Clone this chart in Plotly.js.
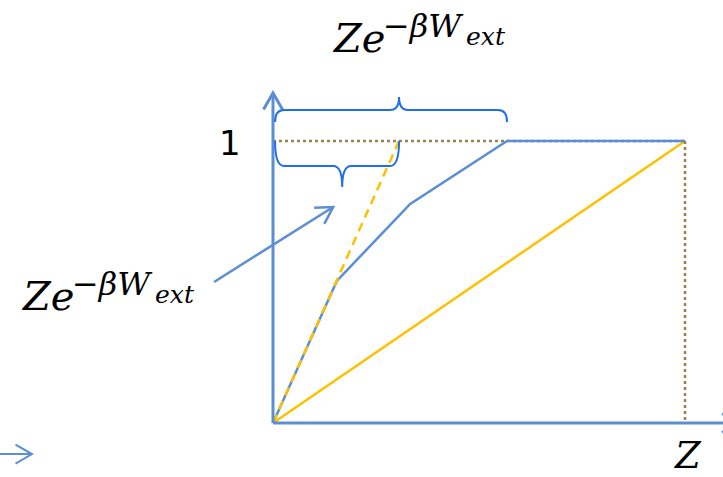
<!DOCTYPE html>
<html>
<head>
<meta charset="utf-8">
<script src="https://cdn.plot.ly/plotly-3.0.1.min.js"></script>
<style>
  html, body { margin: 0; padding: 0; background: #ffffff; }
  #chart { width: 723px; height: 477px; }
</style>
</head>
<body>
<div id="chart"></div>
<script>
// Piecewise partition-function curve (blue), its initial slope extended to 1 (dashed yellow),
// and the straight reference line from the origin to (Z, 1) (solid yellow).
var blueX = [0, 0.155, 0.333, 0.568, 1.0];
var blueY = [0, 0.504, 0.777, 1.0, 1.0];
var dashX = [0, 0.306];
var dashY = [0, 1.0];
var diagX = [0, 1.0];
var diagY = [0, 1.0];
// guide lines at level 1 and at Z
var levelX = [0, 1.0];
var levelY = [1.0, 1.0];
var zDropX = [1.0, 1.0];
var zDropY = [1.0, 0];
var levelLabel = "1";
var zLabel = "Z";

var W = 723, H = 477;
var X0 = 273, Y0 = 423, SX = 412, SY = 282;      // origin pixel, pixels per unit
var xRange = [-X0 / SX, (W - X0) / SX];
var yRange = [-(H - Y0) / SY, Y0 / SY];

function px(x) { return X0 + SX * x; }
function py(y) { return Y0 - SY * y; }
function dx(p) { return (p - X0) / SX; }
function dy(p) { return (Y0 - p) / SY; }

var BLUE = "#5B8ED6", YELLOW = "#FFC000", TAN = "#978350", BRACE = "#1F6FEA";

var traces = [
  { x: diagX, y: diagY, mode: "lines", line: { color: YELLOW, width: 2.5 }, hoverinfo: "skip" },
  { x: levelX, y: levelY, mode: "lines", line: { color: TAN, width: 2.5, dash: "dot" }, hoverinfo: "skip" },
  { x: zDropX, y: zDropY, mode: "lines", line: { color: TAN, width: 2.5, dash: "dot" }, hoverinfo: "skip" },
  { x: blueX, y: blueY, mode: "lines", line: { color: BLUE, width: 2.5 }, hoverinfo: "skip" },
  { x: dashX, y: dashY, mode: "lines", line: { color: YELLOW, width: 2.5, dash: "9px,6px" }, hoverinfo: "skip" }
];

var shapes = [];

// open chevron arrow from (x0,y0) to (x1,y1) in data units
function arrow(x0, y0, x1, y1, color, width) {
  var ax = px(x0), ay = py(y0), bx = px(x1), by = py(y1);
  var ang = Math.atan2(ay - by, ax - bx);
  var len = 19, spread = Math.PI / 6;
  var l1x = bx + len * Math.cos(ang + spread), l1y = by + len * Math.sin(ang + spread);
  var l2x = bx + len * Math.cos(ang - spread), l2y = by + len * Math.sin(ang - spread);
  shapes.push({ type: "line", xref: "x", yref: "y", x0: x0, y0: y0, x1: x1, y1: y1,
                line: { color: color, width: width } });
  shapes.push({ type: "path", xref: "x", yref: "y",
                path: "M" + dx(l1x) + "," + dy(l1y) + " L" + x1 + "," + y1 + " L" + dx(l2x) + "," + dy(l2y),
                line: { color: color, width: width } });
}

// axes
arrow(0, 0, 0, 1.17, BLUE, 3);
arrow(0, 0, 1.13, 0, BLUE, 3);
// stray axis stub in the lower left
arrow(-0.70, -0.11, -0.585, -0.11, BLUE, 2);
// pointer to the initial-slope segment
arrow(-0.143, 0.50, 0.146, 0.766, BLUE, 2.5);

// curly brace between xa and xb with its tip at xTip; vertical offsets in pixels from baseY
function brace(xa, xb, xTip, baseY, endOff, armOff, tipOff) {
  var a = px(xa), b = px(xb), t = px(xTip), base = py(baseY);
  var ye = base + endOff, ya = base + armOff, yt = base + tipOff;
  var r = 9, r2 = 9;
  var pts = [
    ["M", a, ye],
    ["Q", a, ya, a + r, ya],
    ["L", t - r2, ya],
    ["Q", t, ya, t, yt],
    ["Q", t, ya, t + r2, ya],
    ["L", b - r, ya],
    ["Q", b, ya, b, ye]
  ];
  var d = pts.map(function (p) {
    var s = p[0];
    for (var i = 1; i < p.length; i += 2) {
      s += (i > 1 ? " " : "") + dx(p[i]) + "," + dy(p[i + 1]);
    }
    return s;
  }).join(" ");
  shapes.push({ type: "path", xref: "x", yref: "y", path: d, line: { color: BRACE, width: 2 } });
}

// upper brace: origin to the point where the curve reaches 1
brace(0.005, blueX[3], dashX[1], 1.0, -19, -31, -44);
// lower brace: origin to where the initial slope reaches 1
brace(0.005, dashX[1], 0.168, 1.0, 0, 25, 46);

var annotations = [];
function textAt(x, baseline, txt, size, family, color) {
  // place text so that its baseline sits at the given pixel row
  var off = 0.346 * size;
  annotations.push({
    xref: "paper", yref: "paper", x: x / W, y: 1 - (baseline - off) / H,
    xanchor: "left", yanchor: "middle", showarrow: false, borderpad: 0,
    text: txt, font: { family: family, size: size, color: color || "#000000" }
  });
}
var MATH = "DejaVu Serif";
function mathLabel(x, baseline) {
  textAt(x, baseline, "<i>Ze</i>", 40, MATH);
  textAt(x + 51, baseline - 15, "−<i>βW</i>", 32, MATH);
  textAt(x + 134, baseline - 7, "<i>ext</i>", 25, MATH);
}
mathLabel(331, 52);
mathLabel(20, 310);
textAt(218, 155, levelLabel, 34, "DejaVu Sans");
textAt(673, 468, "<i>" + zLabel + "</i>", 37, MATH);

var layout = {
  width: W, height: H,
  margin: { l: 0, r: 0, t: 0, b: 0, pad: 0 },
  paper_bgcolor: "#ffffff", plot_bgcolor: "#ffffff",
  showlegend: false,
  xaxis: { range: xRange, visible: false, fixedrange: true },
  yaxis: { range: yRange, visible: false, fixedrange: true },
  shapes: shapes,
  annotations: annotations
};

Plotly.newPlot("chart", traces, layout, { staticPlot: true, displayModeBar: false });
</script>
</body>
</html>
